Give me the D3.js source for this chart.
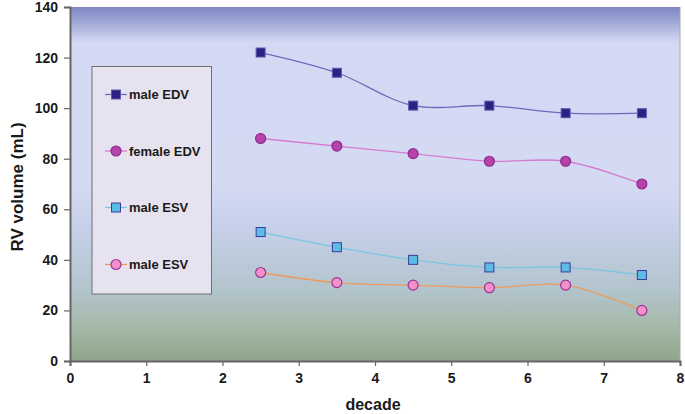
<!DOCTYPE html>
<html><head><meta charset="utf-8">
<script src="https://cdn.jsdelivr.net/npm/d3@7"></script>
<style>
body{margin:0;background:#fff;}
text{font-family:"Liberation Sans",Arial,sans-serif;}
</style></head>
<body>
<svg id="c" width="685" height="414"></svg>
<script>
const decades = [2.5, 3.5, 4.5, 5.5, 6.5, 7.5];
const maleEDV = [122, 114, 101, 101, 98, 98];
const femaleEDV = [88, 85, 82, 79, 79, 70];
const maleESV = [51, 45, 40, 37, 37, 34];
const maleESV2 = [35, 31, 30, 29, 30, 20];
const seriesNames = ["male EDV", "female EDV", "male ESV", "male ESV"];
const xTicks = [0,1,2,3,4,5,6,7,8];
const yTicks = [0,20,40,60,80,100,120,140];

const series = [
  {name: seriesNames[0], values: maleEDV, shape: "square", fill: "#2e1f84", stroke: "#5b5bb0", line: "#6b6bbb"},
  {name: seriesNames[1], values: femaleEDV, shape: "circle", fill: "#b443ab", stroke: "#8e2a8c", line: "#d57bcf"},
  {name: seriesNames[2], values: maleESV, shape: "square", fill: "#5bbde3", stroke: "#3b3b99", line: "#79c6e4"},
  {name: seriesNames[3], values: maleESV2, shape: "circle", fill: "#f291c9", stroke: "#9c3296", line: "#ee9a5c"}
];

const svg = d3.select("#c");
const L = 70, R = 680, T = 7, B = 361;
const x = d3.scaleLinear().domain([0,8]).range([L,R]);
const y = d3.scaleLinear().domain([0,140]).range([B,T]);

const defs = svg.append("defs");
const g = defs.append("linearGradient").attr("id","bg").attr("x1",0).attr("y1",0).attr("x2",0).attr("y2",1);
[[0,"#7f86c3"],[0.03,"#959dd0"],[0.1,"#d3d9f3"],[0.5,"#d5daf3"],[0.62,"#c7d0ea"],[0.8,"#b2c4cc"],[0.9,"#a5b9a9"],[1,"#8ea68a"]]
  .forEach(([o,c])=>g.append("stop").attr("offset",o).attr("stop-color",c));

svg.append("rect").attr("x",L).attr("y",T).attr("width",R-L).attr("height",B-T).attr("fill","url(#bg)");
svg.append("line").attr("x1",R).attr("x2",R).attr("y1",T).attr("y2",B).attr("stroke","#a8a8a8").attr("stroke-width",1);

// axes
const yAxis = svg.append("g").attr("transform",`translate(${L},0)`)
  .call(d3.axisLeft(y).tickValues(yTicks).tickSize(6).tickPadding(6));
const xAxis = svg.append("g").attr("transform",`translate(0,${B})`)
  .call(d3.axisBottom(x).tickValues(xTicks).tickSize(5).tickPadding(7));
[yAxis,xAxis].forEach(a=>{
  a.select(".domain").attr("stroke","#666").attr("stroke-width",2);
  a.selectAll(".tick line").attr("stroke","#666").attr("stroke-width",1.2);
  a.selectAll("text").attr("font-size",14).attr("font-weight","bold").attr("fill","#1a1a1a")
   .attr("font-family","'Liberation Sans',Arial,sans-serif");
});

svg.append("text").attr("transform","translate(23,187) rotate(-90)").attr("text-anchor","middle")
  .attr("font-size",17).attr("font-weight","bold").attr("fill","#1a1a1a").text("RV volume (mL)");
svg.append("text").attr("x",373).attr("y",410).attr("text-anchor","middle")
  .attr("font-size",16).attr("font-weight","bold").attr("fill","#1a1a1a").text("decade");

// legend box
const lg = svg.append("g");
lg.append("rect").attr("x",92).attr("y",66.5).attr("width",119.5).attr("height",227.5)
  .attr("fill","#e7e2ef").attr("stroke","#707070").attr("stroke-width",1);

function marker(sel, s, cx, cy){
  if(s.shape==="square"){
    sel.append("rect").attr("x",cx-4.5).attr("y",cy-4.5).attr("width",9).attr("height",9)
      .attr("fill",s.fill).attr("stroke",s.stroke).attr("stroke-width",1);
  } else {
    sel.append("circle").attr("cx",cx).attr("cy",cy).attr("r",5)
      .attr("fill",s.fill).attr("stroke",s.stroke).attr("stroke-width",1.2);
  }
}

const line = d3.line().x((d,i)=>x(decades[i])).y(d=>y(d)).curve(d3.curveCatmullRom.alpha(0.5));
series.forEach(s=>{
  svg.append("path").attr("d",line(s.values)).attr("fill","none").attr("stroke",s.line).attr("stroke-width",1.3);
});
series.forEach(s=>{
  const gg = svg.append("g");
  s.values.forEach((v,i)=>marker(gg,s,x(decades[i]),y(v)));
});

const legY = [94.5, 151, 207.5, 264.5];
series.forEach((s,i)=>{
  const gy = legY[i];
  lg.append("line").attr("x1",105).attr("x2",127).attr("y1",gy).attr("y2",gy).attr("stroke",s.line).attr("stroke-width",1.3);
  marker(lg,s,116,gy);
  lg.append("text").attr("x",129).attr("y",gy+4.5).attr("font-size",13).attr("font-weight","bold").attr("fill","#1a1a1a").text(s.name);
});
</script>
</body></html>
